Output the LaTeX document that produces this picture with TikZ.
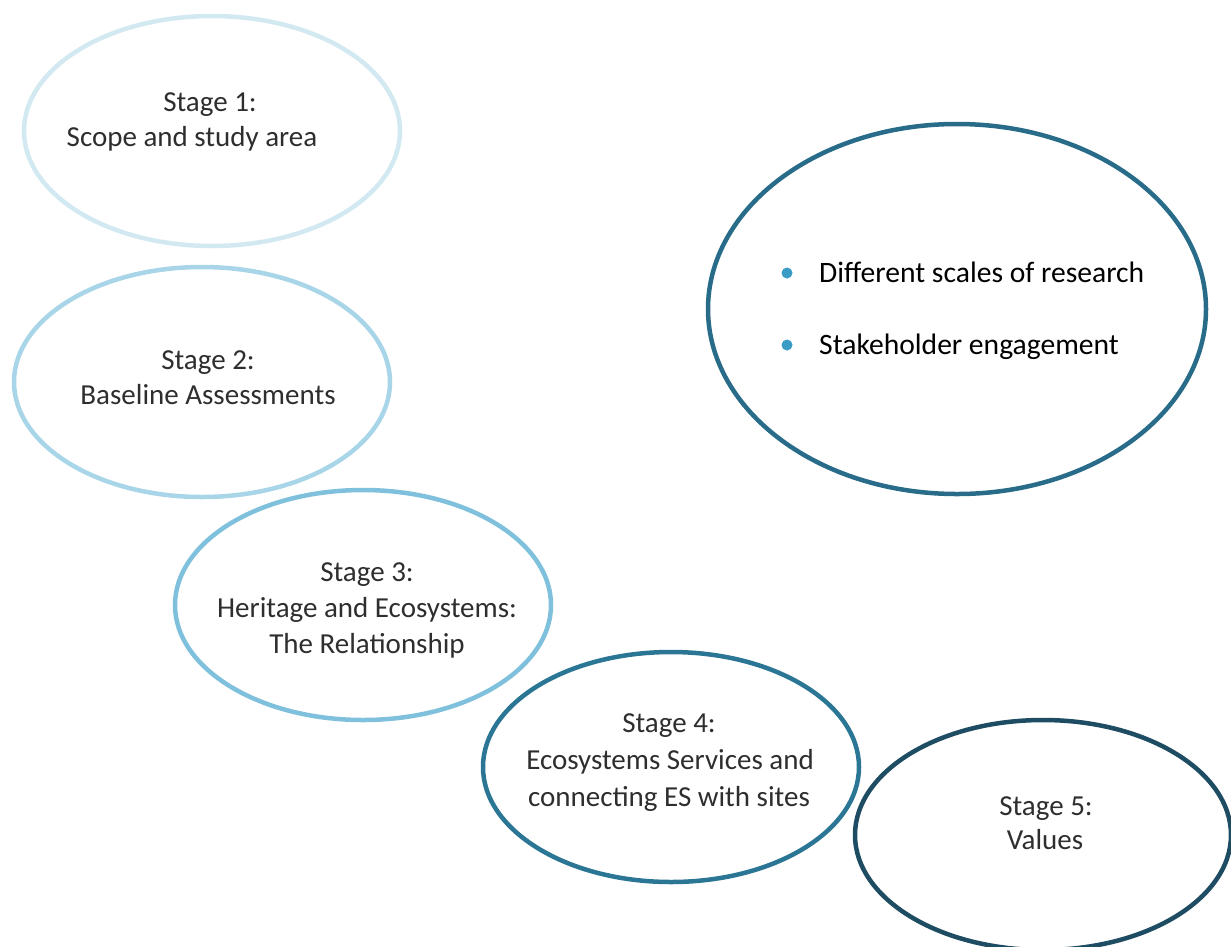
\documentclass[tikz,border=0pt]{standalone}
\usepackage{fontspec}
\setmainfont{Carlito}
\usetikzlibrary{shapes.geometric}
\definecolor{cA}{HTML}{D3E9F2}
\definecolor{cB}{HTML}{A8D5E8}
\definecolor{cC}{HTML}{7FC1DC}
\definecolor{cD}{HTML}{2B7695}
\definecolor{cE}{HTML}{1E4C62}
\definecolor{cF}{HTML}{286C8A}
\definecolor{dotc}{HTML}{3A9CC4}
\tikzset{
  stagebox/.style={ellipse, draw, line width=4.5pt, inner sep=0pt, minimum width=376pt, minimum height=230pt},
  lbl/.style={anchor=base, inner sep=0pt, text=black!82, font=\fontsize{29}{35}\selectfont},
  blt/.style={anchor=base west, inner sep=0pt, text=black, font=\fontsize{29.6}{35}\selectfont},
  bdot/.style={circle, fill=dotc, inner sep=0pt, minimum size=11pt}
}
\begin{document}
\begin{tikzpicture}[x=1pt,y=-1pt]
\useasboundingbox (0,0) rectangle (1231,946);
\node[stagebox, draw=cA] (e1) at (212,131) {};
\node[stagebox, draw=cB] (e2) at (202,382) {};
\node[stagebox, draw=cC] (e3) at (363,605) {};
\node[stagebox, draw=cD] (e4) at (671,767) {};
\node[stagebox, draw=cE] (e5) at (1043,835) {};
\node[ellipse, draw=cF, line width=4.5pt, inner sep=0pt, minimum width=498pt, minimum height=370pt] (big) at (957,309) {};

\node[lbl] (t1a) at (210,111) {Stage 1:};
\node[lbl] (t1b) at (192,146) {Scope and study area};
\node[lbl] (t2a) at (208,369) {Stage 2:};
\node[lbl] (t2b) at (208,404) {Baseline Assessments};
\node[lbl] (t3a) at (367,581) {Stage 3:};
\node[lbl] (t3b) at (367,617) {Heritage and Ecosystems:};
\node[lbl] (t3c) at (367,653) {The Relationship};
\node[lbl] (t4a) at (669,732) {Stage 4:};
\node[lbl] (t4b) at (670,769) {Ecosystems Services and};
\node[lbl] (t4c) at (669,806) {connecting ES with sites};
\node[lbl] (t5a) at (1046,815) {Stage 5:};
\node[lbl] (t5b) at (1045,849) {Values};

\node[bdot] (d1) at (787,273) {};
\node[bdot] (d2) at (787,345) {};
\node[blt] (b1) at (819,282) {Different scales of research};
\node[blt] (b2) at (819,354) {Stakeholder engagement};
\end{tikzpicture}
\end{document}
